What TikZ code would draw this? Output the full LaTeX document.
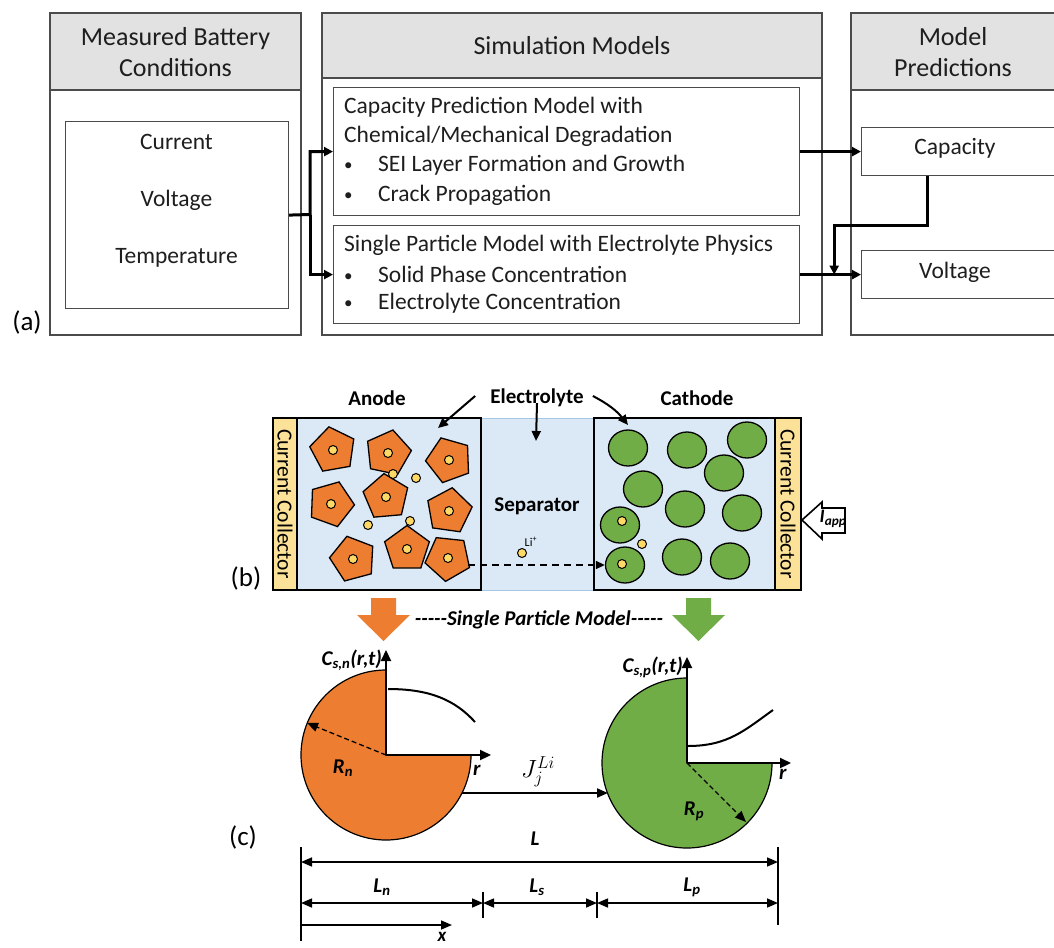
\documentclass[tikz,border=0pt]{standalone}
\usepackage{fontspec}
\setmainfont{Carlito}
\usetikzlibrary{arrows.meta,shapes.geometric,positioning}

\definecolor{hdrgray}{RGB}{226,226,226}
\definecolor{panelline}{RGB}{75,75,75}
\definecolor{txtgray}{RGB}{30,30,30}
\definecolor{elblue}{RGB}{219,232,246}
\definecolor{sepline}{RGB}{165,198,228}
\definecolor{ccyellow}{RGB}{252,226,152}
\definecolor{anodeor}{RGB}{237,125,49}
\definecolor{cathgr}{RGB}{112,173,71}
\definecolor{liyellow}{RGB}{255,217,102}

\newcommand{\fs}[1]{\fontsize{#1}{1.2\dimexpr#1pt\relax}\selectfont}
\newcommand{\bi}[1]{\textbf{\textit{#1}}}
\newcommand{\itm}{\makebox[34pt][l]{\raisebox{1pt}{\fs{17}\textbullet}}}

\tikzset{
  panel/.style={draw=panelline, line width=1.4pt, fill=white, minimum width=#1, inner sep=0pt},
  hdr/.style={draw=panelline, line width=1.4pt, fill=hdrgray},
  inbox/.style={draw=panelline, line width=1.2pt, fill=white, anchor=north west, inner sep=0pt},
  hdrtxt/.style={font=\fs{26}, text=txtgray, align=center, inner sep=0pt},
  bodytxt/.style={font=\fs{23.5}, text=txtgray, inner sep=0pt},
  flow/.style={line width=3pt, -{Triangle[length=9pt,width=9pt]}},
  electrode/.style={draw=black, line width=2.6pt},
  grain/.style={regular polygon, regular polygon sides=5, minimum size=47pt, draw=black, line width=1.3pt, fill=anodeor, inner sep=0pt},
  sphere/.style={ellipse, minimum width=39pt, minimum height=36pt, draw=black, line width=1.3pt, fill=cathgr, inner sep=0pt},
  ion/.style={circle, minimum size=9pt, draw=black, line width=1pt, fill=liyellow, inner sep=0pt},
  lbl/.style={font=\fs{21}\bfseries, inner sep=0pt},
  pointer/.style={line width=2pt, -{Triangle[length=10pt,width=9pt]}},
  axis/.style={line width=2.2pt, -{Triangle[length=11pt,width=10pt]}},
  dim/.style={line width=1.6pt, {Triangle[length=11pt,width=9pt]}-{Triangle[length=11pt,width=9pt]}},
  mathlbl/.style={font=\fs{21}, inner sep=0pt},
}

\begin{document}
\begin{tikzpicture}[x=1pt,y=-1pt]
  \clip (0,0) rectangle (1054,947);

  % (a) model overview
  \draw[hdr] (50,13) rectangle (301,90);
  \draw[panel] (50,90) rectangle (301,335);
  \draw[hdr] (322,13) rectangle (822,78);
  \draw[panel] (322,78) rectangle (822,335);
  \draw[hdr] (851,13) rectangle (1070,90);
  \draw[panel] (851,90) rectangle (1070,335);

  \node[hdrtxt] (mbchdr) at (175.5,52) {Measured Battery\\Conditions};
  \node[hdrtxt] (simhdr) at (572,46) {Simulation Models};
  \node[hdrtxt] (predhdr) at (953,52) {Model\\Predictions};

  \node[inbox, minimum width=223pt, minimum height=187pt] (meas) at (65,121) {};
  \node[bodytxt] (cur) at (176.5,142) {Current};
  \node[bodytxt] (volt) at (176.5,200) {Voltage};
  \node[bodytxt] (temp) at (176.5,258) {Temperature};

  \node[inbox, minimum width=466pt, minimum height=128pt] (capmodel) at (333,87) {};
  \node[inbox, minimum width=466pt, minimum height=98pt] (spmodel) at (333,225) {};
  \node[bodytxt, anchor=west] (capl1) at (344,107) {Capacity Prediction Model with};
  \node[bodytxt, anchor=west] (capl2) at (344,136) {Chemical/Mechanical Degradation};
  \node[bodytxt, anchor=west] (capl3) at (344,165) {\itm SEI Layer Formation and Growth};
  \node[bodytxt, anchor=west] (capl4) at (344,195) {\itm Crack Propagation};
  \node[bodytxt, anchor=west] (spl1) at (344,245) {Single Particle Model with Electrolyte Physics};
  \node[bodytxt, anchor=west] (spl2) at (344,274) {\itm Solid Phase Concentration};
  \node[bodytxt, anchor=west] (spl3) at (344,303) {\itm Electrolyte Concentration};

  \node[inbox, minimum width=220pt, minimum height=48pt] (capout) at (861,127) {};
  \node[inbox, minimum width=220pt, minimum height=48pt] (voltout) at (861,250) {};
  \node[bodytxt] (captxt) at (955,148) {Capacity};
  \node[bodytxt] (volttxt) at (955,272) {Voltage};

  \coordinate (split) at (310,214.5);
  \coordinate (merge) at ([xshift=34pt]spmodel.east);
  \draw[flow] (meas.east) -- (split) |- (capmodel.west);
  \draw[flow] (split) |- (spmodel.west);
  \draw[flow] (capmodel.east) -- (capout.west);
  \draw[flow] (spmodel.east) -- (voltout.west);
  \draw[flow] ([xshift=66pt]capout.south west) -- ++(0,49) -| (merge);

  \node[font=\fs{27}] (tagA) at (27,322) {(a)};

  % (b) cell sandwich
  \fill[elblue] (297,418) rectangle (775,590);
  \draw[sepline, line width=1pt] (481,418) rectangle (594,590);
  \filldraw[fill=ccyellow, draw=black, line width=2pt] (273,418) rectangle (297,590);
  \filldraw[fill=ccyellow, draw=black, line width=2pt] (775,418) rectangle (801,590);
  \node[font=\fs{21.5}, rotate=-90] (ccleft) at (285,504) {Current Collector};
  \node[font=\fs{21.5}, rotate=-90] (ccright) at (788,504) {Current Collector};
  \node[electrode, minimum width=184pt, minimum height=172pt, inner sep=0pt] (anode) at (389,504) {};
  \node[electrode, minimum width=181pt, minimum height=172pt, inner sep=0pt] (cathode) at (684.5,504) {};

  \foreach \x/\y/\a [count=\i] in {333/450/10, 388/453/-12, 449/460/20, 331/504/-20,
      386/497/5, 449/511/-8, 353/559/15, 407/549/0, 448/558/30}{
    \node[grain, rotate=\a] (a\i) at (\x,\y) {};
    \node[ion] at (\x,\y) {};
  }
  \foreach \x/\y [count=\i] in {393/474, 416/478, 368/525, 410/521}
    \node[ion] (fa\i) at (\x,\y) {};

  \foreach \x/\y [count=\i] in {628/448, 687/450, 747/440, 724/473, 643/489, 685/509,
      742/513, 620/525, 625/565, 682/557, 730/561}
    \node[sphere] (c\i) at (\x,\y) {};
  \node[ion] (ci1) at (622,521) {};
  \node[ion] (ci2) at (622,564) {};
  \node[ion] (ci3) at (642,544) {};

  \node[lbl] (anodelbl) at (377,398) {Anode};
  \node[lbl] (eltlbl) at (537,398) {Electrolyte};
  \node[lbl] (cathlbl) at (697,398) {Cathode};
  \node[lbl] (seplbl) at (537,506) {Separator};

  \coordinate (anodein) at (438,428);
  \coordinate (cathin) at (628,425);
  \coordinate (sepin) at (536,441);
  \draw[pointer] ([xshift=-15pt,yshift=2pt]eltlbl.west) -- (anodein);
  \draw[pointer] ([xshift=9pt,yshift=2pt]eltlbl.east) to[bend left=12] (cathin);
  \draw[pointer] ([yshift=4pt]eltlbl.south) -- (sepin);

  \node[ion] (li) at (522,553) {};
  \node[font=\fs{12}, anchor=south west, inner sep=0pt] (lilbl) at ([xshift=-1pt,yshift=3pt]li.north east) {Li\textsuperscript{+}};
  \coordinate (lifrom) at (468,565);
  \draw[line width=1.6pt, dashed, dash pattern=on 7pt off 5pt, -{Triangle[length=9pt,width=8pt]}] (lifrom) -- (c9.west);

  % applied current
  \draw[line width=1.6pt, fill=white] (802,520) -- (822,502) -- (822,508) -- (845,508)
    -- (845,533) -- (822,533) -- (822,539) -- cycle;
  \node[font=\fs{19}, inner sep=0pt] (iapp) at (833,519) {\bi{I}\textsubscript{\bi{app}}};

  \node[font=\fs{27}] (tagB) at (246,578) {(b)};

  % down arrows into the single particle model
  \fill[anodeor] (371,598) -- (396,598) -- (396,615) -- (410,615) -- (383.5,641)
    -- (357,615) -- (371,615) -- cycle;
  \fill[cathgr] (686,598) -- (711,598) -- (711,615) -- (725,615) -- (698.5,641)
    -- (672,615) -- (686,615) -- cycle;
  \node[font=\fs{21}\bfseries\itshape, inner sep=0pt] (spm) at (539,620) {-{}-{}-{}-{}-Single Particle Model-{}-{}-{}-{}-};

  % (c) anode and cathode particles
  \coordinate (ocent) at (386,755);
  \coordinate (gcent) at (687,763);
  \filldraw[fill=anodeor, draw=black, line width=1.2pt] (ocent) -- ++(85,0)
    arc[start angle=0, end angle=270, radius=85] -- cycle;
  \filldraw[fill=cathgr, draw=black, line width=1.2pt] (gcent) -- ++(85,0)
    arc[start angle=0, end angle=270, radius=85] -- cycle;

  \coordinate (oup) at (386,650);
  \coordinate (oright) at (491,755);
  \coordinate (gup) at (687,657);
  \coordinate (gright) at (791,763);
  \draw[axis] (ocent) -- (oup);
  \draw[axis] (ocent) -- (oright);
  \draw[axis] (gcent) -- (gup);
  \draw[axis] (gcent) -- (gright);

  \draw[line width=2pt] (388,689) .. controls (430,689) and (455,700) .. (475,722);
  \draw[line width=2pt] (688,746) .. controls (728,746) and (745,730) .. (773,710);

  \coordinate (orad) at (307,723);
  \coordinate (grad) at (746,822);
  \draw[line width=1.3pt, dashed, dash pattern=on 5pt off 3pt, -{Triangle[length=11pt,width=9pt]}] (ocent) -- (orad);
  \draw[line width=1.3pt, dashed, dash pattern=on 5pt off 3pt, -{Triangle[length=11pt,width=9pt]}] (gcent) -- (grad);

  \node[mathlbl, anchor=east] (csn) at (382,660) {\bi{C\textsubscript{s,n}(r,t)}};
  \node[mathlbl, anchor=east] (csp) at (683,667) {\bi{C\textsubscript{s,p}(r,t)}};
  \node[mathlbl] (rn) at (343,768) {\bi{R\textsubscript{n}}};
  \node[mathlbl] (rp) at (694,811) {\bi{R\textsubscript{p}}};
  \node[mathlbl] (ro) at (477,770) {\bi{r}};
  \node[mathlbl] (rg) at (783,774) {\bi{r}};

  \coordinate (jfrom) at (462,793);
  \coordinate (jto) at (608,793);
  \draw[line width=2pt, -{Triangle[length=11pt,width=9pt]}] (jfrom) -- (jto);
  \node[font=\fs{23}, inner sep=0pt] (jlbl) at (538,772) {$J_j^{Li}$};

  \node[font=\fs{27}] (tagC) at (243,837) {(c)};

  % length dimensions
  \coordinate (x0) at (301,847);
  \coordinate (x0b) at (301,941);
  \coordinate (x3) at (778,847);
  \coordinate (x3b) at (778,925);
  \coordinate (x1) at (483,892);
  \coordinate (x1b) at (483,918);
  \coordinate (x2) at (597,892);
  \coordinate (x2b) at (597,918);
  \draw[line width=1.6pt] (x0) -- (x0b);
  \draw[line width=1.6pt] (x3) -- (x3b);
  \draw[line width=1.6pt] (x1) -- (x1b);
  \draw[line width=1.6pt] (x2) -- (x2b);

  \draw[dim] (x0 |- 0,862) -- (x3 |- 0,862);
  \draw[dim] (x0 |- 0,903) -- (x1 |- 0,903);
  \draw[dim] (x1 |- 0,903) -- (x2 |- 0,903);
  \draw[dim] (x2 |- 0,903) -- (x3 |- 0,903);
  \draw[line width=1.6pt, -{Triangle[length=11pt,width=9pt]}] (x0 |- 0,925) -- (452,925);

  \node[mathlbl] (ltot) at (535,839) {\bi{L}};
  \node[mathlbl] (ln) at (382,887) {\bi{L\textsubscript{n}}};
  \node[mathlbl] (ls) at (537,887) {\bi{L\textsubscript{s}}};
  \node[mathlbl] (lp) at (692,887) {\bi{L\textsubscript{p}}};
  \node[mathlbl, font=\fs{19}] (xlbl) at (442,937) {\bi{x}};
\end{tikzpicture}
\end{document}
